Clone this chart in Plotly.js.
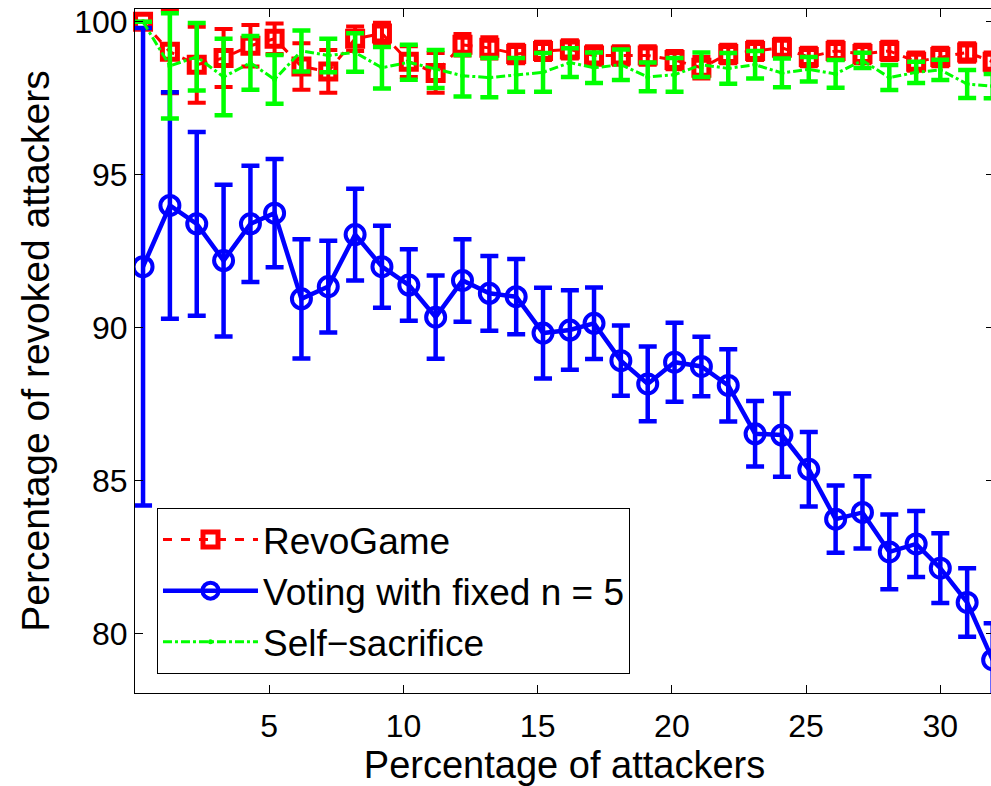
<!DOCTYPE html>
<html>
<head>
<meta charset="utf-8">
<script src="https://cdn.plot.ly/plotly-3.0.1.min.js"></script>
<style>
html,body{margin:0;padding:0;overflow:hidden;background:#fff;}
#chart{width:1000px;height:786px;}
</style>
</head>
<body>
<div id="chart"></div>
<script>
// Percentage of attackers (x positions of the points)
const attackers = [0.3,1.3,2.3,3.3,4.3,5.2,6.2,7.2,8.2,9.2,10.2,11.2,12.2,13.2,14.2,15.2,16.2,17.1,18.1,19.1,20.1,21.1,22.1,23.1,24.1,25.1,26.1,27.1,28.1,29.1,30.0,31.0,31.95];

// RevoGame
const revoGame = [100.0,99.02,98.6,98.82,99.22,99.45,98.54,98.38,99.45,99.62,98.7,98.33,99.25,99.15,98.95,99.05,99.1,98.9,98.9,98.9,98.75,98.5,98.95,99.05,99.15,98.85,99.05,98.95,99.05,98.7,98.85,99.0,98.7];
const revoGameErr = [0,1.35,1.24,0.95,0.68,0.5,0.76,0.7,0.4,0.35,0.5,0.65,0.35,0.35,0.3,0.3,0.3,0.3,0.3,0.3,0.3,0.35,0.3,0.3,0.3,0.3,0.3,0.3,0.3,0.3,0.3,0.3,0.3];

// Voting with fixed n = 5
const voting = [92.0,94.0,93.4,92.2,93.4,93.75,90.95,91.35,93.05,92.0,91.4,90.35,91.55,91.13,91.02,89.83,89.93,90.15,88.93,88.17,88.88,88.74,88.12,86.54,86.5,85.38,83.75,83.97,82.68,82.94,82.15,81.03,79.15];
const votingErr = [7.8,3.7,3.0,2.48,1.9,1.77,1.95,1.5,1.5,1.34,1.17,1.36,1.35,1.22,1.23,1.48,1.3,1.17,1.15,1.22,1.29,0.97,1.18,1.07,1.36,1.22,1.1,1.18,1.22,1.08,1.14,1.12,1.2];

// Self-sacrifice
const selfSacrifice = [100.0,98.56,98.86,98.2,98.66,98.12,99.05,98.9,99.0,98.5,98.68,98.46,98.24,98.18,98.27,98.35,98.67,98.5,98.6,98.2,98.27,98.6,98.48,98.6,98.33,98.45,98.3,98.74,98.18,98.35,98.43,97.97,97.9];
const selfSacrificeErr = [0,1.72,1.1,1.25,0.88,0.8,0.67,0.55,0.63,0.68,0.57,0.62,0.68,0.64,0.55,0.63,0.47,0.5,0.5,0.47,0.55,0.4,0.5,0.45,0.47,0.4,0.45,0.25,0.41,0.35,0.33,0.46,0.4];

const xTicks = [5,10,15,20,25,30];
const yTicks = [80,85,90,95,100];

const FONT = 'Liberation Sans, Arial, Helvetica, sans-serif';

const traces = [
  {
    name: 'RevoGame', x: attackers, y: revoGame, type: 'scatter', mode: 'lines+markers',
    line: {color: '#ff0000', width: 3, dash: 'dash'},
    marker: {symbol: 'square-open', size: 15, color: '#ff0000', line: {color: '#ff0000', width: 5}},
    error_y: {type: 'data', array: revoGameErr, visible: true, color: '#ff0000', thickness: 4, width: 9},
    cliponaxis: false
  },
  {
    name: 'Voting with fixed n = 5', x: attackers, y: voting, type: 'scatter', mode: 'lines+markers',
    line: {color: '#0000ff', width: 4.5},
    marker: {symbol: 'circle-open', size: 19, color: '#0000ff', line: {color: '#0000ff', width: 4}},
    error_y: {type: 'data', array: votingErr, visible: true, color: '#0000ff', thickness: 4.5, width: 9},
    cliponaxis: true
  },
  {
    name: 'Self\u2212sacrifice', x: attackers, y: selfSacrifice, type: 'scatter', mode: 'lines+markers',
    line: {color: '#00ff00', width: 3, dash: 'dashdot'},
    marker: {symbol: 'circle', size: 5, color: '#00ff00'},
    error_y: {type: 'data', array: selfSacrificeErr, visible: true, color: '#00ff00', thickness: 4.5, width: 9},
    cliponaxis: false
  }
];

const layout = {
  width: 1000, height: 786,
  margin: {l: 135, r: 6, t: 9, b: 93},
  paper_bgcolor: '#ffffff', plot_bgcolor: '#ffffff',
  font: {family: FONT, color: '#000000', size: 32},
  showlegend: true,
  legend: {
    x: 0.0256, y: 0.2705, xanchor: 'left', yanchor: 'top',
    bgcolor: '#ffffff', bordercolor: '#000000', borderwidth: 1,
    font: {family: FONT, size: 37, color: '#000000'},
    itemwidth: 95, tracegroupgap: 0
  },
  xaxis: {
    range: [0, 32], tickvals: xTicks, ticktext: xTicks.map(String),
    ticks: 'inside', ticklen: 8, tickwidth: 1, tickcolor: '#000000',
    showline: true, linecolor: '#000000', linewidth: 1, mirror: 'ticks',
    showgrid: false, zeroline: false,
    tickfont: {family: FONT, size: 32, color: '#000000'},
    ticklabelstandoff: 5,
    title: {text: 'Percentage of attackers', font: {family: FONT, size: 38, color: '#000000'}, standoff: 5}
  },
  yaxis: {
    range: [78.07, 100.42], tickvals: yTicks, ticktext: yTicks.map(String),
    ticks: 'inside', ticklen: 8, tickwidth: 1, tickcolor: '#000000',
    showline: true, linecolor: '#000000', linewidth: 1, mirror: 'ticks',
    showgrid: false, zeroline: false,
    tickfont: {family: FONT, size: 32, color: '#000000'},
    ticklabelstandoff: 0,
    title: {text: 'Percentage of revoked attackers', font: {family: FONT, size: 39, color: '#000000'}, standoff: 12}
  }
};

Plotly.newPlot('chart', traces, layout, {displayModeBar: false, staticPlot: true});
</script>
</body>
</html>
